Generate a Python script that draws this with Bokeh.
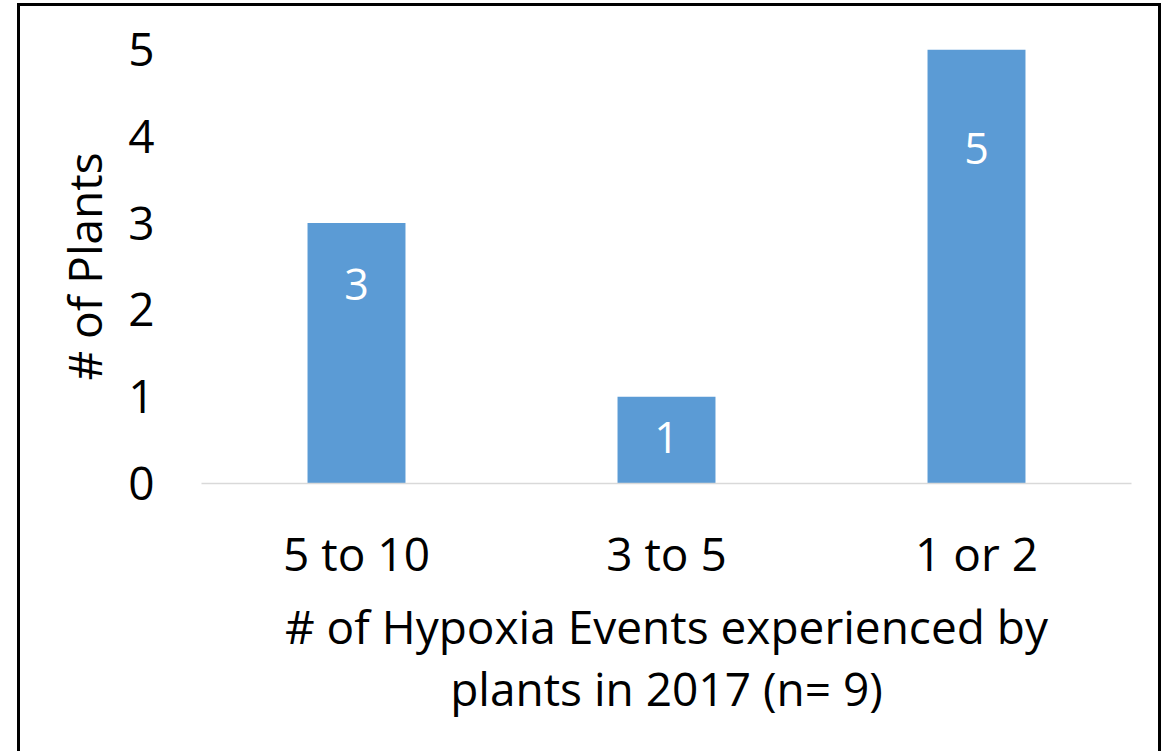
from bokeh.plotting import figure
from bokeh.layouts import column
from bokeh.models import Range1d, FactorRange, ColumnDataSource
from bokeh.core.properties import value
from bokeh.embed import file_html
from bokeh.resources import INLINE

# ---- data ----
categories = ["5 to 10", "3 to 5", "1 or 2"]
plants = [3, 1, 5]
labels = ["3", "1", "5"]
y_ticks = [0, 1, 2, 3, 4, 5]
x_title = "# of Hypoxia Events experienced by\nplants in 2017 (n= 9)"
y_title = "# of Plants"

# ---- style ----
BAR = "#5B9BD5"
FONT = "Open Sans"
label_offsets = [61, 41, 99]  # pixel drop of the in-bar labels

src = ColumnDataSource(dict(cat=categories, val=plants, lab=labels, off=label_offsets))

W, H = 1138, 745
p = figure(
    width=W, height=H,
    x_range=FactorRange(*categories, range_padding=0),
    y_range=Range1d(0, 5),
    output_backend="svg", toolbar_location=None,
    min_border_left=181, min_border_right=27,
    min_border_top=43, min_border_bottom=268,
)
p.outline_line_color = None
p.background_fill_color = "white"
p.border_fill_color = "white"

p.vbar(x="cat", top="val", width=0.316, source=src, fill_color=BAR, line_color=None)
p.text(x="cat", y="val", text="lab", y_offset="off", source=src,
       text_color="white", text_font=value(FONT), text_font_size="43px",
       text_align="center", text_baseline="middle")

p.xgrid.visible = False
p.ygrid.visible = False

ya = p.yaxis[0]
ya.ticker = y_ticks
ya.axis_line_color = None
ya.major_tick_line_color = None
ya.minor_tick_line_color = None
ya.major_label_text_font = FONT
ya.major_label_text_font_size = "46px"
ya.major_label_text_color = "black"
ya.major_label_standoff = 41
ya.axis_label = y_title
ya.axis_label_text_font = FONT
ya.axis_label_text_font_size = "46px"
ya.axis_label_text_font_style = "normal"
ya.axis_label_text_color = "black"
ya.axis_label_standoff = 10

xa = p.xaxis[0]
xa.axis_line_color = "#D9D9D9"
xa.axis_line_width = 1.5
xa.major_tick_line_color = None
xa.minor_tick_line_color = None
xa.major_label_text_font = FONT
xa.major_label_text_font_size = "46px"
xa.major_label_text_color = "black"
xa.major_label_standoff = 32
xa.axis_label = x_title
xa.axis_label_text_font = FONT
xa.axis_label_text_font_size = "46px"
xa.axis_label_text_font_style = "normal"
xa.axis_label_text_color = "black"
xa.axis_label_text_line_height = 1.0
xa.axis_label_standoff = 8

layout = column(p, styles={"border-left": "3px solid black",
                           "border-top": "3px solid black",
                           "border-right": "3px solid black",
                           "margin-left": "17px", "margin-top": "3px"})

open("out.html", "w").write(file_html(layout, INLINE))
